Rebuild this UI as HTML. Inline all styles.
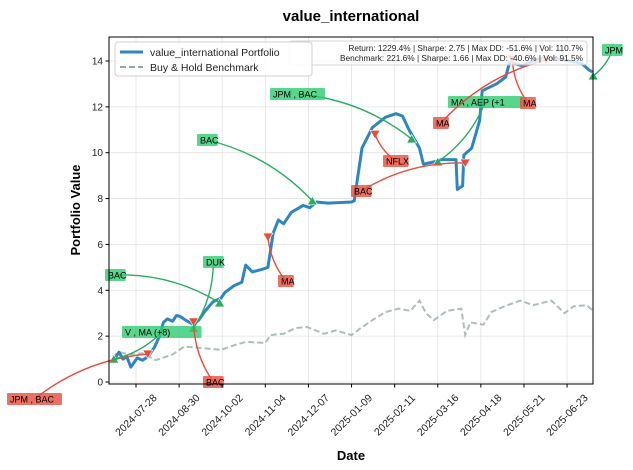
<!DOCTYPE html>
<html><head><meta charset="utf-8"><style>
body{margin:0;background:#fff;}
svg{display:block;font-family:"Liberation Sans","DejaVu Sans",sans-serif;}
</style></head><body>
<svg id="chart" width="633" height="470" viewBox="0 0 633 470" xmlns="http://www.w3.org/2000/svg"></svg>
<script>
// ---- data ----
const portDates=["2024-07-10","2024-07-12","2024-07-15","2024-07-18","2024-07-21","2024-07-24","2024-07-29","2024-08-02","2024-08-06","2024-08-11","2024-08-15","2024-08-18","2024-08-21","2024-08-25","2024-08-28","2024-08-31","2024-09-04","2024-09-10","2024-09-14","2024-09-19","2024-09-25","2024-10-01","2024-10-04","2024-10-11","2024-10-17","2024-10-20","2024-10-25","2024-11-01","2024-11-06","2024-11-10","2024-11-14","2024-11-18","2024-11-24","2024-12-03","2024-12-08","2024-12-13","2024-12-22","2025-01-09","2025-01-11","2025-01-17","2025-01-25","2025-02-04","2025-02-12","2025-02-17","2025-02-22","2025-03-02","2025-03-05","2025-03-13","2025-03-19","2025-03-30","2025-03-31","2025-04-04","2025-04-05","2025-04-11","2025-04-17","2025-04-19","2025-04-30","2025-05-07","2025-05-10","2025-05-19","2025-06-02","2025-06-09","2025-06-25","2025-07-04","2025-07-10","2025-07-13"];
const portValues=[1.05,1.05,1.3,1.0,1.1,0.65,1.05,0.95,1.1,1.5,2.0,2.6,2.75,2.65,2.9,2.85,2.7,2.5,2.7,3.1,3.5,3.65,3.9,4.2,4.35,5.1,4.8,4.9,5.0,6.5,7.07,6.9,7.4,7.7,7.6,7.85,7.8,7.85,7.9,10.2,11.1,11.55,11.7,11.6,11.0,10.2,9.5,9.6,9.7,9.7,8.4,8.55,9.9,10.2,11.4,12.7,13.0,13.3,13.95,13.8,14.1,14.15,14.0,13.9,13.6,13.5];
const benchDates=["2024-07-10","2024-07-15","2024-07-24","2024-08-02","2024-08-12","2024-08-25","2024-09-03","2024-09-13","2024-10-01","2024-10-11","2024-10-20","2024-11-04","2024-11-08","2024-11-18","2024-11-27","2024-12-06","2024-12-19","2024-12-28","2025-01-09","2025-01-16","2025-01-25","2025-02-04","2025-02-14","2025-02-23","2025-03-02","2025-03-07","2025-03-13","2025-03-23","2025-04-03","2025-04-06","2025-04-10","2025-04-20","2025-04-26","2025-05-06","2025-05-18","2025-05-28","2025-06-11","2025-06-21","2025-06-28","2025-07-08","2025-07-13"];
const benchValues=[1.1,1.3,1.2,1.25,0.95,1.2,1.55,1.5,1.4,1.6,1.75,1.7,2.05,2.1,2.35,2.4,2.1,2.25,2.05,2.35,2.7,3.05,3.2,3.1,3.55,3.0,2.7,3.1,3.2,2.05,2.6,2.5,3.05,3.3,3.55,3.35,3.55,3.0,3.3,3.35,3.1];
const buyDates=["2024-07-11","2024-09-10","2024-09-30","2024-12-10","2025-02-24","2025-03-16","2025-07-13"];
const buyValues=[1.0,2.35,3.45,7.9,10.6,9.6,13.35];
const sellDates=["2024-08-06","2024-09-10","2024-11-06","2025-01-27","2025-04-06","2025-05-12","2025-06-07"];
const sellValues=[1.22,2.62,6.32,10.8,9.55,14.08,14.04];
const xTickLabels=["2024-07-28","2024-08-30","2024-10-02","2024-11-04","2024-12-07","2025-01-09","2025-02-11","2025-03-16","2025-04-18","2025-05-21","2025-06-23"];
const yTickValues=[0,2,4,6,8,10,12,14];
const annTexts=["JPM  , BAC","V   , MA   (+8)","BAC","BAC","DUK","MA","BAC","JPM  , BAC","NFLX","MA  , AEP  (+1","BAC","MA","MA","JPM"];
const annKinds=["sell","buy","sell","buy","buy","sell","buy","buy","sell","buy","sell","sell","sell","buy"];
const annMarker=[0,0,1,2,1,2,3,4,3,5,4,6,5,6];
const annBox=[[7,393],[122,326],[203,376],[105,269],[203,256],[278,275],[197,134],[270,88],[383,155],[448,96],[351,185],[433,117],[520,97],[602,44]];

// ---- axes ----
const L=109,R=593,T=37,B=384;
const d0=Date.parse("2024-07-28"),pxPerDay=1.3063;
const xs=d=>136+(Date.parse(d)-d0)/86400000*pxPerDay;
const ys=v=>382-v*22.93;
const svg=document.getElementById('chart');
const NS="http://www.w3.org/2000/svg";
function mk(tag,attrs,parent){const e=document.createElementNS(NS,tag);for(const k in attrs)e.setAttribute(k,attrs[k]);(parent||svg).appendChild(e);return e;}

const grid=mk('g',{});


xTickLabels.forEach(t=>mk('line',{x1:xs(t),x2:xs(t),y1:T,y2:B,stroke:'#e3e3e3','stroke-width':0.8},grid));
yTickValues.forEach(v=>mk('line',{x1:L,x2:R,y1:ys(v),y2:ys(v),stroke:'#e3e3e3','stroke-width':0.8},grid));

function path(ds,vs){return ds.map((d,i)=>(i?'L':'M')+xs(d).toFixed(1)+','+ys(vs[i]).toFixed(1)).join(' ');}
const bench=mk('path',{d:path(benchDates,benchValues),fill:'none',stroke:'#95a5a6','stroke-width':2,'stroke-dasharray':'6,3',opacity:0.75});


const port=mk('path',{d:path(portDates,portValues),fill:'none',stroke:'#2e86c1','stroke-width':3,'stroke-linejoin':'round'});



function tri(x,y,up){const s=5;return up?`M${x-s},${y+s*0.8} L${x+s},${y+s*0.8} L${x},${y-s*0.9} Z`:`M${x-s},${y-s*0.8} L${x+s},${y-s*0.8} L${x},${y+s*0.9} Z`;}
buyDates.forEach((d,i)=>{const m=mk('path',{d:tri(xs(d),ys(buyValues[i]),true),fill:'#27ae60',stroke:'#fff','stroke-width':0.6});

});
sellDates.forEach((d,i)=>{const m=mk('path',{d:tri(xs(d),ys(sellValues[i]),false),fill:'#e74c3c',stroke:'#fff','stroke-width':0.6});

});

annTexts.forEach((t,i)=>{
  const buy=annKinds[i]==='buy';
  const mx=buy?xs(buyDates[annMarker[i]]):xs(sellDates[annMarker[i]]);
  const my=buy?ys(buyValues[annMarker[i]]):ys(sellValues[annMarker[i]]);
  const [bx,by]=annBox[i];
  const w=t.length*4.9+6,h=12;
  const g=mk('g',{});
  
  
  const col=buy?'#27ae60':'#e74c3c';
  const sx=bx+w/2,sy=by+h/2;
  const cx=(sx+mx)/2+(my-sy)*0.15,cy=(sy+my)/2-(mx-sx)*0.15;
  mk('path',{d:`M${sx},${sy} Q${cx},${cy} ${mx},${my}`,fill:'none',stroke:col,'stroke-width':1.4},g);
  mk('rect',{x:bx,y:by,width:w,height:h,fill:buy?'#2ecc71':'#e74c3c',opacity:0.8,rx:1},g);
  const tx=mk('text',{x:bx+3,y:by+9.5,'font-size':9,fill:'#000'},g);tx.textContent=t;
});

const frame=mk('rect',{x:L,y:T,width:R-L,height:B-T,fill:'none',stroke:'#000','stroke-width':1});


yTickValues.forEach(v=>{mk('line',{x1:L-3.5,x2:L,y1:ys(v),y2:ys(v),stroke:'#000'});
const t=mk('text',{x:L-6,y:ys(v)+3.5,'text-anchor':'end','font-size':10,fill:'#222'});t.textContent=v;

});
xTickLabels.forEach(d=>{const x=xs(d);mk('line',{x1:x,x2:x,y1:B,y2:B+3.5,stroke:'#000'});
const cy=B+31;
const t=mk('text',{x:x,y:cy+3.5,'text-anchor':'middle','font-size':10.5,fill:'#222',transform:`rotate(-45 ${x} ${cy})`});t.textContent=d;

});

const sg=mk('g',{});


mk('rect',{x:289,y:41,width:298,height:24,fill:'#fff',opacity:0.8,stroke:'#ccc',rx:3},sg);
const s1=mk('text',{x:583,y:51,'text-anchor':'end','font-size':8.3,fill:'#222'},sg);s1.textContent="Return: 1229.4% | Sharpe: 2.75 | Max DD: -51.6% | Vol: 110.7%";
const s2=mk('text',{x:583,y:61,'text-anchor':'end','font-size':8.3,fill:'#222'},sg);s2.textContent="Benchmark: 221.6% | Sharpe: 1.66 | Max DD: -40.6% | Vol: 91.5%";

const lg=mk('g',{});


mk('rect',{x:115,y:42,width:197,height:34,fill:'#fff',opacity:0.9,stroke:'#ccc',rx:3},lg);
mk('line',{x1:120,x2:143,y1:52,y2:52,stroke:'#2e86c1','stroke-width':3},lg);
mk('line',{x1:120,x2:143,y1:67,y2:67,stroke:'#95a5a6','stroke-width':2,'stroke-dasharray':'6,3'},lg);
const l1=mk('text',{x:150,y:56,'font-size':10.5,fill:'#222'},lg);l1.textContent="value_international Portfolio";
const l2=mk('text',{x:150,y:71,'font-size':10.5,fill:'#222'},lg);l2.textContent="Buy & Hold Benchmark";

const tt=mk('text',{x:351,y:21,'text-anchor':'middle','font-size':15,'font-weight':'bold',fill:'#000'});tt.textContent="value_international";


const xt=mk('text',{x:351,y:460,'text-anchor':'middle','font-size':13,'font-weight':'bold',fill:'#000'});xt.textContent="Date";


const yt=mk('text',{x:80,y:210,'text-anchor':'middle','font-size':13,'font-weight':'bold',fill:'#000',transform:'rotate(-90 80 210)'});yt.textContent="Portfolio Value";


</script>
</body></html>
